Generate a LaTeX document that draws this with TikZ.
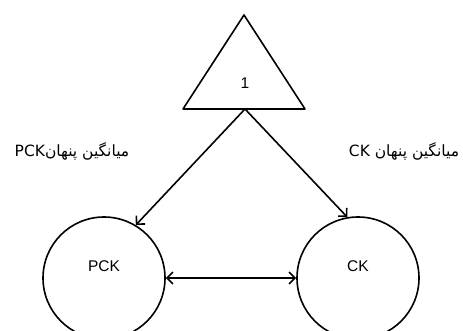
\documentclass[tikz,border=0pt]{standalone}
\usepackage{fontspec}
\setmainfont{Liberation Sans}
\newfontfamily\arabicfont[Script=Arabic]{DejaVu Sans}
\TeXXeTstate=1
\usetikzlibrary{arrows.meta}
\usetikzlibrary{positioning}

\tikzset{
  cell/.style={draw=black,circle,minimum size=122pt,inner sep=0pt},
  tag/.style={inner sep=0pt,font=\fontsize{15.5}{17}\selectfont},
  note/.style={inner sep=0pt,font=\arabicfont\fontsize{15.5}{17}\selectfont}
}

\begin{document}
\begin{tikzpicture}[line cap=round,line join=round,>={Straight Barb[length=6pt,width=12pt]},x=1pt,y=-1pt,line width=1.6pt]
      \clip (0,0) rectangle (463,331);
      \fill[white] (0,0) rectangle (463,331);
      % top triangle
      \draw[color=black] (244,15) -- (305,109) -- (183,109) -- cycle;
      \node[tag] (one) at (245,83) {1};
      \coordinate (tribase) at (245,109);
      % the two circles
      \node[cell] (pck) at (104,278) {};
      \node[cell] (ck) at (358,278) {};
      \node[tag] (pcktext) at (104,266) {PCK};
      \node[tag] (cktext) at (358,266) {CK};
      % labels
      \node[note] (pcknote) at (72,151) {\beginR میانگین پنهان\beginL PCK\endL\endR};
      \node[note] (cknote) at (404,151) {\beginR میانگین پنهان \beginL CK\endL\endR};
      % connectors
      \draw[->] (tribase) -- (pck.59);
      \draw[->] (tribase) -- (ck.100);
      \draw[<->] (pck) -- (ck);
    \end{tikzpicture}
\end{document}
